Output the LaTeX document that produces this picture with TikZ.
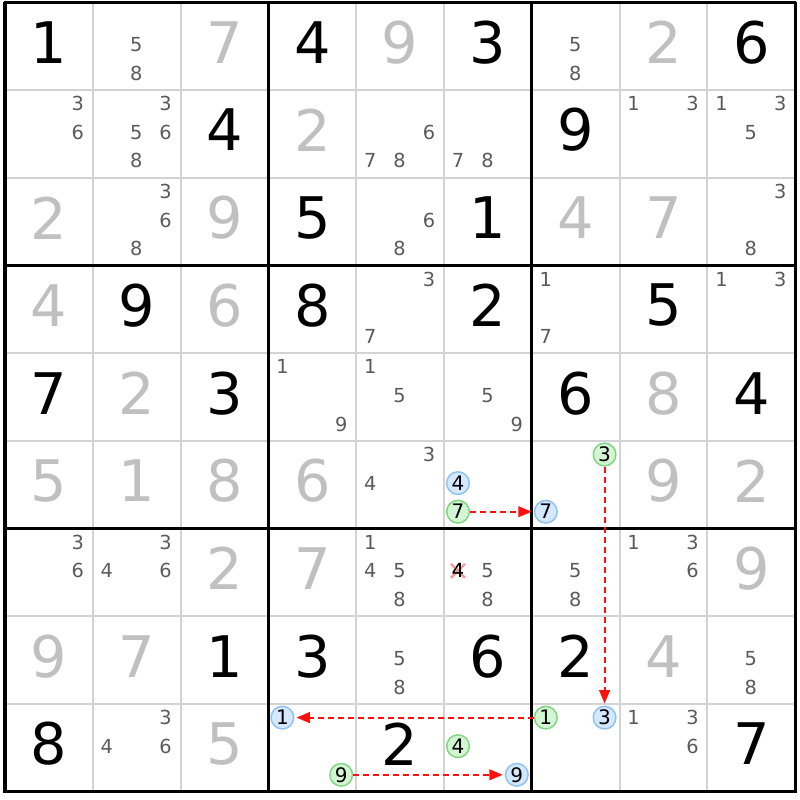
\documentclass[tikz,border=0pt]{standalone}
\usepackage{fontspec}
\setmainfont{DejaVu Sans}
\usetikzlibrary{arrows.meta}
\definecolor{solvedc}{HTML}{C0C0C0}
\definecolor{candc}{HTML}{5A5A5A}
\definecolor{thinc}{HTML}{D3D3D3}
\definecolor{gfill}{HTML}{D4F5D4}
\definecolor{gline}{HTML}{80D680}
\definecolor{bfill}{HTML}{D4E8FF}
\definecolor{bline}{HTML}{8EC2F2}
\definecolor{xmarkc}{HTML}{F49A9A}
\definecolor{arrowc}{HTML}{FF1010}
\tikzset{
  givenD/.style={text=black, inner sep=0pt, font=\fontsize{43}{43}\selectfont},
  solvedD/.style={text=solvedc, inner sep=0pt, font=\fontsize{43}{43}\selectfont},
  candD/.style={text=candc, inner sep=0pt, font=\fontsize{14.5}{14.5}\selectfont},
  gcirc/.style={circle, draw=gline, fill=gfill, line width=1.1pt, minimum size=17pt, inner sep=0pt, text=black, font=\fontsize{15}{15}\selectfont},
  bcirc/.style={circle, draw=bline, fill=bfill, line width=1.1pt, minimum size=17pt, inner sep=0pt, text=black, font=\fontsize{15}{15}\selectfont},
  chainarrow/.style={draw=arrowc, line width=1.4pt, dash pattern=on 4.5pt off 3pt, -{Triangle[length=10pt,width=8pt]}, shorten >=1.5pt},
  thinline/.style={draw=thinc, line width=1.5pt},
  thickline/.style={draw=black, line width=2.3pt},
  xmarkline/.style={draw=xmarkc, line width=1.8pt}
}
\newcommand\gv[3]{\node[givenD] (n#1#2) at ({5+(#2+0.5)*87.8},{2.5+(#1+0.5)*87.7-4}) {#3};}
\newcommand\sv[3]{\node[solvedD] (n#1#2) at ({5+(#2+0.5)*87.8},{2.5+(#1+0.5)*87.7-4}) {#3};}
\newcommand\cd[3]{\foreach \d in {#3}{\node[candD] (k#1#2\d) at ({5+#2*87.8+14+mod(\d-1,3)*29.4},{2.5+#1*87.7+13.5+floor((\d-1)/3)*28.6}) {\d};}}
\newcommand\cg[3]{\node[gcirc] (k#1#2#3) at ({5+#2*87.8+14+mod(#3-1,3)*29.4},{2.5+#1*87.7+13.5+floor((#3-1)/3)*28.6}) {#3};}
\newcommand\cb[3]{\node[bcirc] (k#1#2#3) at ({5+#2*87.8+14+mod(#3-1,3)*29.4},{2.5+#1*87.7+13.5+floor((#3-1)/3)*28.6}) {#3};}
\begin{document}
\begin{tikzpicture}[x=0.75pt,y=-0.75pt]
\useasboundingbox (0,0) rectangle (800,800);
\fill[white] (0,0) rectangle (800,800);
% thin grid
\foreach \i in {1,2,4,5,7,8}{
  \draw[thinline] ({5+\i*87.8},2.5) -- ({5+\i*87.8},791.5);
  \draw[thinline] (5,{2.5+\i*87.7}) -- (795,{2.5+\i*87.7});
}
\foreach \i in {0,3,6,9}{
  \draw[thickline] ({5+\i*87.8},1.5) -- ({5+\i*87.8},792.5);
  \draw[thickline] (4,{2.5+\i*87.7}) -- (796,{2.5+\i*87.7});
}
% row 0
\gv00{1} \cd01{5,8} \sv02{7} \gv03{4} \sv04{9} \gv05{3} \cd06{5,8} \sv07{2} \gv08{6}
% row 1
\cd10{3,6} \cd11{3,5,6,8} \gv12{4} \sv13{2} \cd14{6,7,8} \cd15{7,8} \gv16{9} \cd17{1,3} \cd18{1,3,5}
% row 2
\sv20{2} \cd21{3,6,8} \sv22{9} \gv23{5} \cd24{6,8} \gv25{1} \sv26{4} \sv27{7} \cd28{3,8}
% row 3
\sv30{4} \gv31{9} \sv32{6} \gv33{8} \cd34{3,7} \gv35{2} \cd36{1,7} \gv37{5} \cd38{1,3}
% row 4
\gv40{7} \sv41{2} \gv42{3} \cd43{1,9} \cd44{1,5} \cd45{5,9} \gv46{6} \sv47{8} \gv48{4}
% row 5
\sv50{5} \sv51{1} \sv52{8} \sv53{6} \cd54{3,4} \cb554 \cg557 \cg563 \cb567 \sv57{9} \sv58{2}
% row 6
\cd60{3,6} \cd61{3,4,6} \sv62{2} \sv63{7} \cd64{1,4,5,8} \cd65{5,8}
\node[candD,text=black] (k654) at ({5+5*87.8+14},{2.5+6*87.7+13.5+28.6}) {4};
\draw[xmarkline] ([shift={(-7,-7)}]k654.center) -- ([shift={(7,7)}]k654.center);
\draw[xmarkline] ([shift={(-7,7)}]k654.center) -- ([shift={(7,-7)}]k654.center);
\node[candD,text=black] at (k654.center) {4};
\cd66{5,8} \cd67{1,3,6} \sv68{9}
% row 7
\sv70{9} \sv71{7} \gv72{1} \gv73{3} \cd74{5,8} \gv75{6} \gv76{2} \sv77{4} \cd78{5,8}
% row 8
\gv80{8} \cd81{3,4,6} \sv82{5} \cb831 \cg839 \gv84{2} \cg854 \cb859 \cg861 \cb863 \cd87{1,3,6} \gv88{7}
% chains
\draw[chainarrow] (k557) -- (k567);
\draw[chainarrow] (k563) -- (k863);
\draw[chainarrow] (k861) -- (k831);
\draw[chainarrow] (k839) -- (k859);
\end{tikzpicture}
\end{document}
